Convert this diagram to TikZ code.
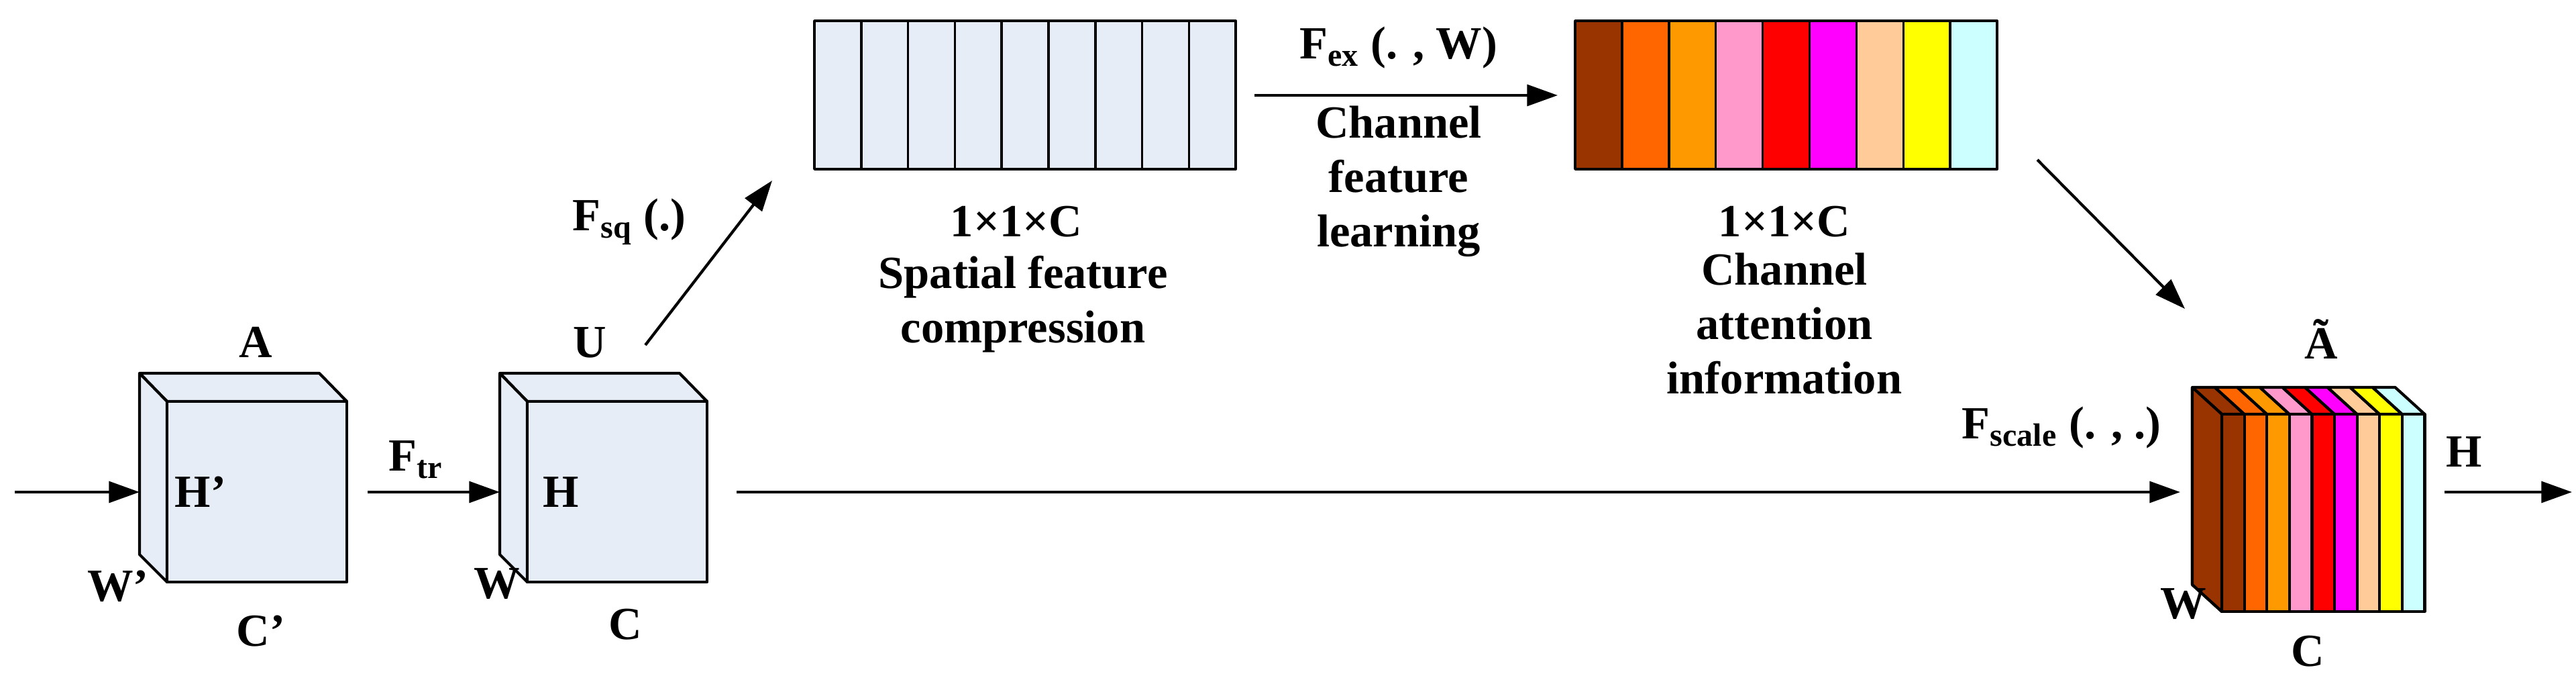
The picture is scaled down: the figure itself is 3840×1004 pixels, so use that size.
\documentclass[tikz,border=0pt]{standalone}
\usepackage{fontspec}
\setmainfont{Liberation Serif}
\usetikzlibrary{arrows.meta}
\definecolor{bx}{HTML}{E6EDF7}
\definecolor{c1}{HTML}{993300}
\definecolor{c2}{HTML}{FF6600}
\definecolor{c3}{HTML}{FF9900}
\definecolor{c4}{HTML}{FF99CC}
\definecolor{c5}{HTML}{FF0000}
\definecolor{c6}{HTML}{FF00FF}
\definecolor{c7}{HTML}{FFCC99}
\definecolor{c8}{HTML}{FFFF00}
\definecolor{c9}{HTML}{CCFFFF}
\begin{document}
\begin{tikzpicture}[x=0.01cm,y=-0.01cm,
  lbl/.style={font=\fontsize{19.5}{23}\selectfont\bfseries,align=center,inner sep=0pt},
  edge/.style={draw=black,line width=1.2pt,line join=round},
  arr/.style={line width=1.2pt,-{Triangle[length=13pt,width=9pt]}}]
\useasboundingbox (0,0) rectangle (3840,1004);
\foreach \xo/\nm in {249/A,786/U}{
  \path[edge,fill=bx] (\xo,598) -- ++(-41,-42) -- ++(268,0) -- ++(41,42) -- cycle;
  \path[edge,fill=bx] (\xo,598) -- ++(-41,-42) -- ++(0,270) -- ++(41,41) -- cycle;
  \path[edge,fill=bx] (\xo,598) rectangle ++(268,269);
}
\coordinate (Ain) at (208,733);
\coordinate (Aout) at (548,733);
\coordinate (Uin) at (745,733);
\coordinate (Uout) at (1098,733);
\coordinate (Utop) at (962,514);
\coordinate (start) at (22,733);
\node[lbl] (lA) at (381,510) {A};
\node[lbl] (lH1) at (299,733) {H’};
\node[lbl] (lW1) at (176,873) {W’};
\node[lbl] (lC1) at (389,940) {C’};
\node[lbl] (lFtr) at (620,685) {F\textsubscript{tr}};
\node[lbl] (lU) at (879,510) {U};
\node[lbl] (lH) at (836,733) {H};
\node[lbl] (lW) at (741,870) {W};
\node[lbl] (lC) at (932,930) {C};
\foreach \i in {0,...,8}{
  \path[edge,line width=1pt,fill=bx] ({1214+\i*69.8},31) rectangle ++(69.8,221);
}
\coordinate (Sin) at (1151,269);
\coordinate (Sout) at (1870,142);
\foreach \i/\c in {0/c1,1/c2,2/c3,3/c4,4/c5,5/c6,6/c7,7/c8,8/c9}{
  \path[edge,line width=1pt,fill=\c] ({2348+\i*69.9},31) rectangle ++(69.9,221);
}
\coordinate (Ein) at (2322,142);
\coordinate (Eout) at (3037,238);
\coordinate (Tin) at (3257,460);
\node[lbl] (lsq) at (938,330) {F\textsubscript{sq} (.)};
\node[lbl] (lex) at (2085,71) {F\textsubscript{ex} (. , W)};
\node[lbl] (lcfl) at (2085,270) {Channel\\feature\\learning};
\node[lbl] (l1) at (1515,330) {1×1×C};
\node[lbl] (lsfc) at (1525,453) {Spatial feature\\compression};
\node[lbl] (l2) at (2660,330) {1×1×C};
\node[lbl] (lcai) at (2660,482) {Channel\\attention\\information};
\node[lbl] (lsc) at (3073,637) {F\textsubscript{scale} (. , .)};
\path[edge,fill=c1] (3312,617) -- ++(-44,-40) -- ++(0,294) -- ++(44,40) -- cycle;
\foreach \i/\c in {0/c1,1/c2,2/c3,3/c4,4/c5,5/c6,6/c7,7/c8,8/c9}{
  \path[edge,fill=\c] ({3312+\i*33.6},617) -- ++(-44,-40) -- ++(33.6,0) -- ++(44,40) -- cycle;
  \path[edge,fill=\c] ({3312+\i*33.6},617) rectangle ++(33.6,294);
}
\path[edge,fill=c1] (3312,617) -- ++(-44,-40) -- ++(0,294) -- ++(44,40) -- cycle;
\coordinate (Ain2) at (3250,733);
\coordinate (Oout) at (3644,733);
\coordinate (end) at (3834,733);
\node[lbl] (lAt) at (3460,505) {Ã};
\node[lbl] (lHo) at (3673,673) {H};
\node[lbl] (lWo) at (3255,900) {W};
\node[lbl] (lCo) at (3440,970) {C};
\draw[arr] (start) -- (Ain);
\draw[arr] (Aout) -- (Uin);
\draw[arr] (Uout) -- (Ain2);
\draw[arr] (Utop) -- (Sin);
\draw[arr] (Sout) -- (Ein);
\draw[arr] (Eout) -- (Tin);
\draw[arr] (Oout) -- (end);
\end{tikzpicture}
\end{document}
